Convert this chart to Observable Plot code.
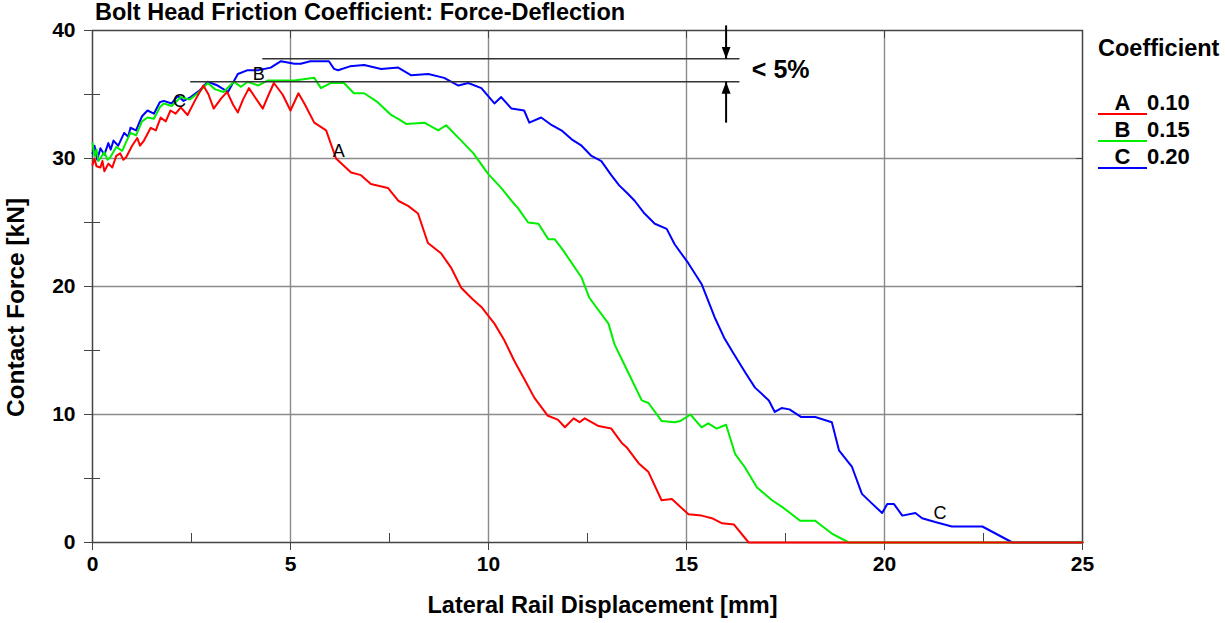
<!DOCTYPE html>
<html>
<head>
<meta charset="utf-8">
<script src="https://cdn.jsdelivr.net/npm/d3@7"></script>
<script src="https://cdn.jsdelivr.net/npm/@observablehq/plot@0.6"></script>
<style>
  html, body { margin: 0; padding: 0; background: #fff; }
  #wrap { position: relative; width: 1225px; height: 623px; font-family: "Liberation Sans", Arial, sans-serif; }
  #title { position: absolute; left: 95px; top: -1px; font-size: 23.5px; font-weight: bold; color: #000; white-space: nowrap; }
  #legend { position: absolute; left: 1098px; top: 35px; font-weight: bold; color: #000; }
  #legend .head { font-size: 23.5px; margin-bottom: 29px; white-space: nowrap; }
  #legend .row { font-size: 22px; height: 27px; line-height: 24px; white-space: nowrap; }
  #legend .key { display: inline-block; width: 49px; text-align: center; border-bottom: 2px solid; line-height: 21px; }
</style>
</head>
<body>
<div id="wrap"></div>
<script>
// ---- data ----
const seriesNames = ["A", "B", "C"];
const coefficients = ["0.10", "0.15", "0.20"];
const seriesColors = ["#ff0000", "#00ee00", "#0000ff"];

const curveA = [[0,29.5],[0.05,30.0],[0.1,29.4],[0.2,29.3],[0.25,29.8],[0.3,29.0],[0.4,29.6],[0.5,29.3],[0.6,30.2],[0.7,30.4],[0.78,29.9],[0.85,30.1],[1.0,31.0],[1.13,31.6],[1.2,31.0],[1.3,31.4],[1.47,32.4],[1.6,32.2],[1.72,33.2],[1.85,32.9],[1.97,33.75],[2.1,33.5],[2.23,34.0],[2.4,33.4],[2.6,34.6],[2.8,35.7],[2.93,35.0],[3.06,33.9],[3.25,34.7],[3.4,35.2],[3.55,34.2],[3.67,33.6],[3.8,34.6],[3.95,35.5],[4.1,34.8],[4.3,33.9],[4.45,35.0],[4.58,35.9],[4.8,35.0],[5.0,33.75],[5.2,35.1],[5.35,34.3],[5.6,32.8],[5.9,32.2],[6.15,30.0],[6.53,28.9],[6.78,28.7],[7.03,28.0],[7.46,27.7],[7.72,26.7],[7.97,26.3],[8.22,25.7],[8.47,23.4],[8.8,22.6],[9.05,21.5],[9.31,19.9],[9.6,19.0],[9.82,18.4],[10.15,17.1],[10.4,15.8],[10.65,14.2],[10.9,12.8],[11.16,11.3],[11.5,9.9],[11.75,9.6],[11.93,9.0],[12.15,9.7],[12.3,9.4],[12.43,9.7],[12.78,9.1],[13.1,8.9],[13.36,7.8],[13.5,7.4],[13.79,6.2],[14.04,5.5],[14.37,3.3],[14.63,3.4],[15.05,2.2],[15.38,2.1],[15.64,1.9],[15.9,1.5],[16.2,1.4],[16.57,0],[25,0]];

const curveB = [[0,31.2],[0.05,30.2],[0.1,30.7],[0.15,29.8],[0.3,30.5],[0.38,29.9],[0.45,30.1],[0.6,30.9],[0.75,30.6],[0.85,31.3],[0.96,32.0],[1.1,31.8],[1.25,32.9],[1.39,33.2],[1.55,33.1],[1.7,34.0],[1.8,34.3],[2.0,34.1],[2.23,34.8],[2.45,34.6],[2.66,35.1],[2.91,35.9],[3.1,35.4],[3.31,35.2],[3.57,36.0],[3.75,35.6],[3.92,36.0],[4.18,35.7],[4.43,36.1],[4.76,36.1],[5.1,36.1],[5.6,36.3],[5.77,35.5],[6.02,35.9],[6.35,35.9],[6.6,35.1],[6.86,35.1],[7.2,34.4],[7.54,33.4],[7.72,33.1],[7.92,32.7],[8.38,32.8],[8.73,32.2],[8.93,32.6],[9.31,31.4],[9.62,30.4],[9.99,28.8],[10.32,27.7],[10.58,26.7],[10.75,26.1],[11.0,25.0],[11.26,24.9],[11.51,23.7],[11.67,23.7],[11.89,22.8],[12.35,20.7],[12.55,19.1],[13.03,17.1],[13.18,15.5],[13.54,13.2],[13.87,11.1],[14.04,10.9],[14.37,9.5],[14.7,9.4],[14.85,9.5],[15.1,10.0],[15.38,9.0],[15.55,9.3],[15.76,8.9],[16.0,9.2],[16.23,6.9],[16.47,5.9],[16.78,4.3],[17.16,3.3],[17.45,2.7],[17.87,1.7],[18.25,1.7],[18.67,0.7],[19.1,0],[25,0]];

const curveC = [[0,30.4],[0.05,31.0],[0.12,29.9],[0.2,30.8],[0.3,30.3],[0.4,31.2],[0.46,30.7],[0.53,31.4],[0.65,31.0],[0.8,32.0],[0.9,31.7],[0.96,32.4],[1.1,32.2],[1.25,33.3],[1.39,33.75],[1.55,33.5],[1.7,34.4],[1.8,34.5],[2.0,34.3],[2.15,34.9],[2.3,34.5],[2.48,34.8],[2.7,35.3],[2.91,36.0],[3.16,35.7],[3.42,35.2],[3.67,36.6],[3.92,36.9],[4.18,36.9],[4.5,37.1],[4.76,37.6],[5.1,37.4],[5.26,37.4],[5.5,37.6],[5.97,37.6],[6.1,37.0],[6.2,36.9],[6.5,37.2],[6.86,37.3],[7.29,37.0],[7.72,37.1],[8.05,36.5],[8.48,36.6],[8.88,36.3],[9.24,35.7],[9.49,35.9],[9.82,35.5],[10.15,34.3],[10.32,34.8],[10.58,33.9],[10.9,33.75],[11.03,32.8],[11.33,33.2],[11.6,32.6],[11.84,32.2],[12.1,31.5],[12.35,31.0],[12.6,30.2],[12.85,29.8],[13.1,28.7],[13.3,27.9],[13.5,27.3],[13.69,26.7],[13.94,25.7],[14.2,24.9],[14.5,24.5],[14.7,23.3],[15.05,21.8],[15.38,20.2],[15.71,17.6],[15.95,16.0],[16.2,14.7],[16.5,13.2],[16.73,12.1],[17.08,11.1],[17.23,10.2],[17.4,10.5],[17.6,10.4],[17.9,9.8],[18.25,9.8],[18.67,9.4],[18.85,7.2],[19.18,5.9],[19.43,3.8],[19.7,3.0],[19.94,2.3],[20.07,3.0],[20.24,3.0],[20.45,2.1],[20.78,2.3],[20.95,1.9],[21.28,1.6],[21.7,1.25],[22.47,1.25],[23.23,0],[25,0]];

const xMajorTicks = [0, 5, 10, 15, 20, 25];
const xMinorTicks = [2.5, 7.5, 12.5, 17.5, 22.5];
const yMajorTicks = [0, 10, 20, 30, 40];
const yMinorTicks = [5, 15, 25, 35];

const curveLabels = [
  {x: 6.22, y: 30.6, text: "A"},
  {x: 4.2, y: 36.6, text: "B"},
  {x: 2.2, y: 34.5, text: "C"},
  {x: 21.4, y: 2.3, text: "C"}
];
// "< 5%" annotation: levels of the two peaks
const peakLevels = [{y: 37.8, x1: 4.3, x2: 16.35}, {y: 36.0, x1: 2.48, x2: 16.35}];
const peakArrows = [{x: 16.0, y1: 40.4, y2: 37.8}, {x: 16.0, y1: 32.8, y2: 36.0}];
const peakNote = [{x: 16.65, y: 36.9, text: "< 5%"}];

// ---- build table ----
const curves = [curveA, curveB, curveC];
const rows = [];
// draw order C, B, A so that A is on top
[2, 1, 0].forEach(i => curves[i].forEach(([x, y]) => rows.push({series: seriesNames[i], x, y})));

function filledArrow(color, context) {
  const ns = "http://www.w3.org/2000/svg";
  const doc = context && context.document ? context.document : document;
  const m = doc.createElementNS(ns, "marker");
  m.setAttribute("viewBox", "-12 -5 12 10");
  m.setAttribute("markerUnits", "userSpaceOnUse");
  m.setAttribute("markerWidth", "12");
  m.setAttribute("markerHeight", "10");
  m.setAttribute("orient", "auto");
  m.setAttribute("refX", "0");
  m.setAttribute("refY", "0");
  const p = doc.createElementNS(ns, "path");
  p.setAttribute("d", "M-12,-4.5L0,0L-12,4.5Z");
  p.setAttribute("fill", color);
  p.setAttribute("stroke", "none");
  m.appendChild(p);
  return m;
}

const FONT = '"Liberation Sans", Arial, sans-serif';

function build(marker) {
  return Plot.plot({
    width: 1225,
    height: 623,
    marginLeft: 92,
    marginRight: 143,
    marginTop: 30,
    marginBottom: 81,
    style: {fontFamily: FONT, fontSize: "21px", fontWeight: "bold", color: "#000", background: "#fff", overflow: "visible"},
    x: {domain: [0, 25], label: null},
    y: {domain: [0, 40], label: null},
    color: {domain: seriesNames, range: seriesColors},
    marks: [
      Plot.gridX(xMajorTicks.slice(1, -1), {stroke: "#8a8a8a", strokeOpacity: 1, strokeWidth: 1.4}),
      Plot.gridY(yMajorTicks.slice(1, -1), {stroke: "#8a8a8a", strokeOpacity: 1, strokeWidth: 1.4}),
      Plot.frame({stroke: "#444", strokeWidth: 1.5}),
      // bottom axis
      Plot.axisX({ticks: xMajorTicks, tickSize: 8, tickPadding: 6, label: null, fontSize: 21, fontWeight: "bold", stroke: "#444"}),
      Plot.axisX({ticks: xMinorTicks, tickSize: -9, text: null, label: null, stroke: "#444"}),
      Plot.axisX({anchor: "top", ticks: xMajorTicks, tickSize: -7, text: null, label: null, stroke: "#444"}),
      // left axis
      Plot.axisY({ticks: yMajorTicks, tickSize: 8, tickPadding: 9, label: null, fontSize: 21, fontWeight: "bold", stroke: "#444"}),
      Plot.axisY({ticks: yMinorTicks, tickSize: 8, text: null, label: null, stroke: "#444"}),
      Plot.axisY({ticks: yMinorTicks, tickSize: -8, text: null, label: null, stroke: "#444"}),
      Plot.axisY({anchor: "right", ticks: yMajorTicks, tickSize: -7, text: null, label: null, stroke: "#444"}),
      // axis titles
      Plot.text(["Lateral Rail Displacement [mm]"], {frameAnchor: "bottom", dx: 15, dy: 70, text: d => d, textAnchor: "middle", fontSize: 23.5, fontWeight: "bold", fill: "#000"}),
      Plot.text(["Contact Force [kN]"], {frameAnchor: "left", dx: -76, dy: 21, rotate: -90, textAnchor: "middle", text: d => d, fontSize: 24.5, fontWeight: "bold", fill: "#000"}),
      // curves
      Plot.line(rows, {x: "x", y: "y", z: "series", stroke: "series", strokeWidth: 2, curve: "linear"}),
      // curve letters
      Plot.text(curveLabels, {x: "x", y: "y", text: "text", fontSize: 18, fontWeight: "normal", fill: "#000"}),
      // peak comparison annotation
      Plot.ruleY(peakLevels, {y: "y", x1: "x1", x2: "x2", stroke: "#333", strokeWidth: 1.5}),
      Plot.link(peakArrows, {x1: "x", x2: "x", y1: "y1", y2: "y2", stroke: "#000", strokeWidth: 2, markerEnd: marker}),
      Plot.text(peakNote, {x: "x", y: "y", text: "text", textAnchor: "start", fontSize: 25, fontWeight: "bold", fill: "#000"})
    ]
  });
}

let chart;
try { chart = build(filledArrow); } catch (e) { console.error(e); chart = build("arrow"); }

const wrap = document.getElementById("wrap");
wrap.appendChild(chart);

const title = document.createElement("div");
title.id = "title";
title.textContent = "Bolt Head Friction Coefficient: Force-Deflection";
wrap.appendChild(title);

const legend = document.createElement("div");
legend.id = "legend";
let html = '<div class="head">Coefficient</div>';
seriesNames.forEach((s, i) => {
  html += `<div class="row"><span class="key" style="border-color:${seriesColors[i]}">${s}</span>${coefficients[i]}</div>`;
});
legend.innerHTML = html;
wrap.appendChild(legend);
</script>
</body>
</html>
